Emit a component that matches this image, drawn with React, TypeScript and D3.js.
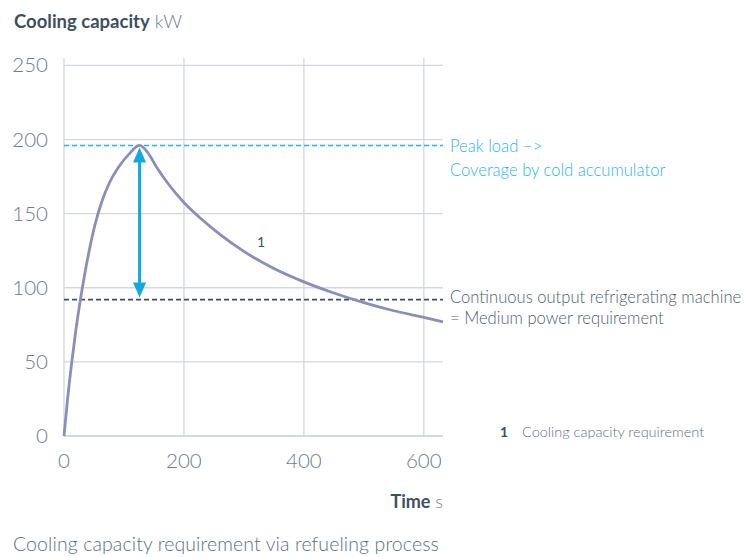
import React, { useEffect, useRef } from 'react';
import * as d3 from 'd3';

const timeValues = [0, 6, 13, 20, 27, 34, 42, 52, 63, 76, 92, 108, 126, 140, 155, 176, 200, 230, 260, 300, 350, 400, 450, 500, 550, 600, 632];
const capacityValues = [0, 25, 50, 72, 91, 108, 125, 143, 158, 171, 182, 190, 196, 191, 181, 169, 157.5, 146, 136, 124.5, 113, 104, 96.5, 90, 84.5, 80, 77];
const yTicks = [0, 50, 100, 150, 200, 250];
const xTicks = [0, 200, 400, 600];
const peakLoad = 196;
const continuousOutput = 92;
const peakTime = 126;

interface Point {
    t: number;
    v: number;
}

const App: React.FC = () => {
    const svgRef = useRef<SVGSVGElement | null>(null);

    useEffect(() => {
        if (!svgRef.current) return;
        const svg = d3.select(svgRef.current);
        svg.selectAll("*").remove();

        const width = 755;
        const height = 557;
        const font = "Lato, 'Noto Sans', sans-serif";
        const gridColor = "#d1d8df";
        const textColor = "#5f707c";
        const darkText = "#3e505d";
        const cyan = "#12a9e3";

        svg.attr("width", width).attr("height", height);

        const x = d3.scaleLinear().domain([0, 632]).range([64, 443]);
        const y = d3.scaleLinear().domain([0, 255]).range([436, 58]);

        const data: Point[] = timeValues.map((t, i) => ({ t, v: capacityValues[i] }));

        // grid
        svg.append("g")
            .selectAll("line")
            .data(yTicks.filter(d => d > 0))
            .enter()
            .append("line")
            .attr("x1", x(0)).attr("x2", x(632))
            .attr("y1", d => y(d)).attr("y2", d => y(d))
            .attr("stroke", gridColor)
            .attr("stroke-width", 1.3);

        svg.append("g")
            .selectAll("line")
            .data(xTicks)
            .enter()
            .append("line")
            .attr("x1", d => x(d)).attr("x2", d => x(d))
            .attr("y1", y(255)).attr("y2", y(0))
            .attr("stroke", gridColor)
            .attr("stroke-width", 1.3);

        // x axis baseline
        svg.append("line")
            .attr("x1", x(0)).attr("x2", x(632))
            .attr("y1", y(0)).attr("y2", y(0))
            .attr("stroke", "#c5ced7")
            .attr("stroke-width", 1.5);

        // tick labels
        svg.append("g")
            .selectAll("text")
            .data(yTicks)
            .enter()
            .append("text")
            .attr("x", 48)
            .attr("y", d => y(d) + 7)
            .attr("text-anchor", "end")
            .attr("font-family", font)
            .attr("font-weight", 300)
            .attr("font-size", 20.5)
            .attr("fill", "#6d7d88")
            .text(d => d);

        svg.append("g")
            .selectAll("text")
            .data(xTicks)
            .enter()
            .append("text")
            .attr("x", d => x(d))
            .attr("y", 468)
            .attr("text-anchor", "middle")
            .attr("font-family", font)
            .attr("font-weight", 300)
            .attr("font-size", 20.5)
            .attr("fill", "#6d7d88")
            .text(d => d);

        // reference lines
        svg.append("line")
            .attr("x1", x(0)).attr("x2", x(632))
            .attr("y1", y(peakLoad)).attr("y2", y(peakLoad))
            .attr("stroke", "#20b3ec")
            .attr("stroke-width", 1.6)
            .attr("stroke-dasharray", "5,3");

        svg.append("line")
            .attr("x1", x(0)).attr("x2", x(632))
            .attr("y1", y(continuousOutput)).attr("y2", y(continuousOutput))
            .attr("stroke", "#3d505c")
            .attr("stroke-width", 1.6)
            .attr("stroke-dasharray", "5,3");

        // curve
        const line = d3.line<Point>()
            .x(d => x(d.t))
            .y(d => y(d.v))
            .curve(d3.curveMonotoneX);

        svg.append("path")
            .datum(data)
            .attr("fill", "none")
            .attr("stroke", "#8a8ebb")
            .attr("stroke-width", 2.8)
            .attr("d", line);

        // double arrow
        const ax = x(peakTime);
        const top = y(peakLoad) + 2;
        const bottom = y(continuousOutput) - 2;
        svg.append("line")
            .attr("x1", ax).attr("x2", ax)
            .attr("y1", top + 12).attr("y2", bottom - 12)
            .attr("stroke", cyan)
            .attr("stroke-width", 3);
        svg.append("path")
            .attr("d", `M${ax},${top} L${ax - 6.5},${top + 15} L${ax + 6.5},${top + 15} Z`)
            .attr("fill", cyan);
        svg.append("path")
            .attr("d", `M${ax},${bottom} L${ax - 6.5},${bottom - 15} L${ax + 6.5},${bottom - 15} Z`)
            .attr("fill", cyan);

        // title
        const title = svg.append("text")
            .attr("x", 14).attr("y", 28)
            .attr("font-family", font)
            .attr("font-size", 18.5)
            .attr("fill", darkText);
        title.append("tspan").attr("font-weight", 700).text("Cooling capacity");
        title.append("tspan").attr("font-weight", 300).attr("fill", "#6d7d88").text(" kW");

        const xTitle = svg.append("text")
            .attr("x", 443).attr("y", 508)
            .attr("text-anchor", "end")
            .attr("font-family", font)
            .attr("font-size", 18)
            .attr("fill", darkText);
        xTitle.append("tspan").attr("font-weight", 700).text("Time");
        xTitle.append("tspan").attr("font-weight", 300).attr("fill", "#6d7d88").text(" s");

        // annotations
        const annot = [
            { text: "Peak load –>", yy: 152, color: "#2bb5ea" },
            { text: "Coverage by cold accumulator", yy: 176, color: "#2bb5ea" },
            { text: "Continuous output refrigerating machine", yy: 303, color: "#4f606c" },
            { text: "= Medium power requirement", yy: 324, color: "#4f606c" },
        ];
        svg.append("g")
            .selectAll("text")
            .data(annot)
            .enter()
            .append("text")
            .attr("x", 450)
            .attr("y", d => d.yy)
            .attr("font-family", font)
            .attr("font-weight", 300)
            .attr("font-size", 16.6)
            .attr("fill", d => d.color)
            .text(d => d.text);

        // series label
        svg.append("text")
            .attr("x", 261).attr("y", 247)
            .attr("text-anchor", "middle")
            .attr("font-family", font)
            .attr("font-size", 14)
            .attr("fill", darkText)
            .text("1");

        // legend
        svg.append("text")
            .attr("x", 500).attr("y", 437)
            .attr("font-family", font)
            .attr("font-weight", 700)
            .attr("font-size", 14)
            .attr("fill", darkText)
            .text("1");
        svg.append("text")
            .attr("x", 522).attr("y", 437)
            .attr("font-family", font)
            .attr("font-weight", 300)
            .attr("font-size", 14.5)
            .attr("fill", textColor)
            .text("Cooling capacity requirement");

        // caption
        svg.append("text")
            .attr("x", 13).attr("y", 551)
            .attr("font-family", font)
            .attr("font-weight", 300)
            .attr("font-size", 19.5)
            .attr("letter-spacing", 0.1)
            .attr("fill", textColor)
            .text("Cooling capacity requirement via refueling process");
    }, []);

    return (
        <div style={{ position: 'absolute', left: 0, top: 0 }}>
            <svg ref={svgRef} style={{ display: 'block' }}></svg>
        </div>
    );
};

export default App;
